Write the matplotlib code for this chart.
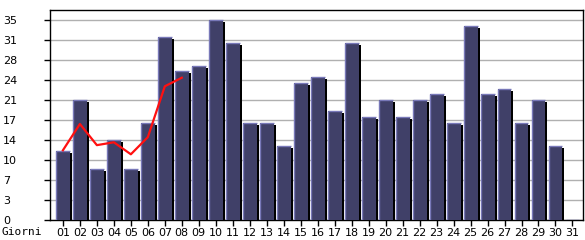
import matplotlib
matplotlib.use("Agg")
import matplotlib.pyplot as plt
import numpy as np

days = ["%02d" % d for d in range(1, 32)]
visits = [12, 21, 9, 14, 9, 17, 32, 26, 27, 35, 31, 17, 17, 13, 24, 25,
          19, 31, 18, 21, 18, 21, 22, 17, 34, 22, 23, 17, 21, 13, 0]
trend = [12.2, 16.8, 13.1, 13.6, 11.5, 14.5, 23.4, 24.9]
y_ticks = [0, 3.5, 7, 10.5, 14, 17.5, 21, 24.5, 28, 31.5, 35]
y_labels = ["0", "3", "7", "10", "14", "17", "21", "24", "28", "31", "35"]

fill = "#404068"
light = "#7878b8"

fig = plt.figure(figsize=(5.85, 2.4), dpi=100)
ax = fig.add_axes([50 / 585, 20 / 240, 533 / 585, 210 / 240])

x = np.arange(1, len(visits) + 1)
vals = np.array(visits, dtype=float)
width = 0.82
dx = 2 / 16.99
dy = 2 / 5.714

# shadow, body, highlight edges
ax.bar(x + dx, np.maximum(vals - dy, 0), width=width, color="black",
       zorder=2, align="center")
ax.bar(x, vals, width=width, color=fill, zorder=3)
ax.vlines(x - width / 2, 0, vals, color=light, linewidth=1, zorder=4)
ax.hlines(vals, x - width / 2, x + width / 2, color=light, linewidth=1,
          zorder=4)

ax.plot(x[:len(trend)], trend, color="#ff1010", linewidth=1.6, zorder=5)

ax.set_xlim(0.24, 31.62)
ax.set_ylim(0, 36.75)
ax.set_yticks(y_ticks)
ax.set_yticklabels(y_labels)
ax.set_xticks(x)
ax.set_xticklabels(days)

ax.grid(axis="y", color="#b0b0b0", linewidth=1, zorder=0)
ax.set_axisbelow(True)
for spine in ax.spines.values():
    spine.set_color("black")
    spine.set_linewidth(1)

ax.tick_params(axis="y", length=4, width=1, labelsize=8, pad=30,
               colors="black")
for lbl in ax.get_yticklabels():
    lbl.set_horizontalalignment("left")
ax.tick_params(axis="x", length=4, width=1, labelsize=8, pad=2,
               colors="black")

fig.text(2 / 585, 1 - 232 / 240, "Giorni", fontsize=8, ha="left",
         va="center", family="DejaVu Sans Mono")

fig.savefig("out.png", dpi=100)
